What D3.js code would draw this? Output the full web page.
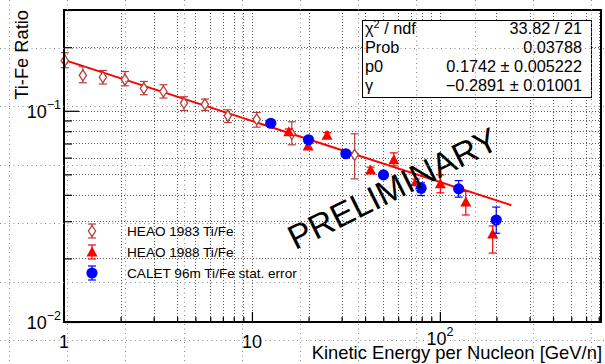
<!DOCTYPE html>
<html><head><meta charset="utf-8">
<script src="https://cdn.jsdelivr.net/npm/d3@7"></script>
<style>
html,body{margin:0;padding:0;background:#fff;}
svg{display:block;font-family:"Liberation Sans",Arial,Helvetica,sans-serif;}
</style></head><body>
<svg id="c" width="605" height="364"></svg>
<script>
// ---- data ----
const heao83E  = [1.01,1.26,1.61,2.11,2.66,3.38,4.35,5.62,7.44,10.6,16.3,35.2];
const heao83V  = [0.1726,0.1472,0.1441,0.1403,0.1278,0.1234,0.1088,0.1073,0.0947,0.0911,0.0778,0.0619];
const heao83Lo = [0.1599,0.1357,0.1338,0.1313,0.1191,0.1149,0.1003,0.1003,0.0880,0.0837,0.0690,0.0476];
const heao83Hi = [0.1883,0.1617,0.1552,0.1535,0.1377,0.1328,0.1165,0.1136,0.1011,0.0982,0.0887,0.0778];

const heao88E  = [15.7,19.9,25.1,42.8,56.9,74.5,100.6,137.4,191];
const heao88V  = [0.0795,0.0682,0.0765,0.0525,0.0586,0.0461,0.0451,0.0370,0.0261];
const heao88Lo = [0.0770,0.0662,0.0742,0.0509,0.0549,0.0447,0.0409,0.0321,0.0212];
const heao88Hi = [0.0820,0.0702,0.0788,0.0541,0.0632,0.0475,0.0497,0.0415,0.0285];

const caletE  = [12.6,20.0,31.6,50.1,79.4,125.9,199.5];
const caletV  = [0.0873,0.0729,0.0626,0.0497,0.0430,0.0427,0.0304];
const caletLo = [0.0850,0.0712,0.0608,0.0482,0.0397,0.0390,0.0263];
const caletHi = [0.0896,0.0746,0.0644,0.0512,0.0456,0.0467,0.0350];

const fitP0 = 0.1742, fitGamma = -0.2891, fitRange = [1, 240];

const statLabels = ["χ² / ndf","Prob","p0","γ"];
const statValues = ["33.82 / 21","0.03788","0.1742 ± 0.005222","−0.2891 ± 0.01001"];

const legendLabels = ["HEAO 1983 Ti/Fe","HEAO 1988 Ti/Fe","CALET 96m Ti/Fe stat. error"];

const xTickValues = [1,2,3,4,5,6,7,8,9,10,20,30,40,50,60,70,80,90,100,200,300,400,500,600,700];
const yTickValues = [0.01,0.02,0.03,0.04,0.05,0.06,0.07,0.08,0.09,0.1,0.2,0.3];
const xMajor = [1,10,100], xMajorBase = ["1","10","10"], xMajorExp = ["","","2"];
const yMajor = [0.01,0.1], yMajorBase = ["10","10"], yMajorExp = ["−2","−1"];

// ---- layout ----
const L=64,R=601,T=10,B=322;
const svg=d3.select("#c");
svg.append("rect").attr("width",605).attr("height",364).attr("fill","#fff");
const x=d3.scaleLog().domain([1,720]).range([L,R]);
const y=d3.scaleLog().domain([0.01,0.3]).range([B,T]);

const C83="#b83c3c", C88="#ff0000", CCAL="#0000ff";

// ROOT grid
const grid=svg.append("g").attr("stroke","#5a5a5a").attr("stroke-width",1).attr("stroke-dasharray","1,2");
grid.selectAll(".gx").data(xTickValues.filter(v=>v>1)).join("line")
  .attr("x1",d=>Math.round(x(d))+0.5).attr("x2",d=>Math.round(x(d))+0.5).attr("y1",T).attr("y2",B);
grid.selectAll(".gy").data(yTickValues.filter(v=>v>0.01 && v<0.3)).join("line")
  .attr("y1",d=>Math.round(y(d))+0.5).attr("y2",d=>Math.round(y(d))+0.5).attr("x1",L).attr("x2",R);

// axes
const isMajX=d=>xMajor.includes(d), isMajY=d=>yMajor.includes(d);
const gx=svg.append("g").attr("transform",`translate(0,${B})`)
  .call(d3.axisBottom(x).tickValues(xTickValues).tickSize(-10).tickFormat(()=>""));
gx.select(".domain").remove();
gx.selectAll(".tick line").attr("y2",d=>isMajX(d)?-10:-5).attr("stroke","#000").attr("stroke-width",1.2);
gx.selectAll(".tick text").remove();
const gy=svg.append("g").attr("transform",`translate(${L},0)`)
  .call(d3.axisLeft(y).tickValues(yTickValues).tickSize(-15).tickFormat(()=>""));
gy.select(".domain").remove();
gy.selectAll(".tick line").attr("x2",d=>isMajY(d)?15:8).attr("stroke","#000").attr("stroke-width",1.2);
gy.selectAll(".tick text").remove();

// tick labels
xMajor.forEach((v,i)=>{
  const t=svg.append("text").attr("x",x(v)).attr("y",xMajorExp[i]?345:348).attr("text-anchor","middle")
    .attr("font-size",18).attr("fill","#000");
  t.append("tspan").text(xMajorBase[i]);
  if(xMajorExp[i]) t.append("tspan").attr("dy",-9).attr("font-size",12.5).text(xMajorExp[i]);
});
yMajor.forEach((v,i)=>{
  const t=svg.append("text").attr("x",61).attr("y",y(v)+7).attr("text-anchor","end")
    .attr("font-size",18).attr("fill","#000");
  t.append("tspan").text(yMajorBase[i]);
  t.append("tspan").attr("dy",-9).attr("font-size",12.5).text(yMajorExp[i]);
});

// axis titles
svg.append("text").attr("transform","translate(28,10) rotate(-90)").attr("text-anchor","end")
  .attr("font-size",18.3).text("Ti-Fe Ratio");
svg.append("text").attr("x",602).attr("y",359).attr("text-anchor","end")
  .attr("font-size",18.4).text("Kinetic Energy per Nucleon [GeV/n]");

// fit line
svg.append("path").datum(fitRange).attr("fill","none").attr("stroke","#ff0000").attr("stroke-width",2)
  .attr("d",d3.line().x(e=>x(e)).y(e=>y(fitP0*Math.pow(e,fitGamma))));

// series drawing helper
function errBars(g,E,Lo,Hi,color,cap){
  E.forEach((e,i)=>{
    const px=x(e);
    g.append("line").attr("x1",px).attr("x2",px).attr("y1",y(Lo[i])).attr("y2",y(Hi[i]))
      .attr("stroke",color).attr("stroke-width",1.2);
    [Lo[i],Hi[i]].forEach(v=>g.append("line").attr("x1",px-cap).attr("x2",px+cap)
      .attr("y1",y(v)).attr("y2",y(v)).attr("stroke",color).attr("stroke-width",1.2));
  });
}
const diamond="M0,-5.5L3.6,0L0,5.5L-3.6,0Z";
const tri="M0,-5.5L5.5,4.5L-5.5,4.5Z";

const g83=svg.append("g");
errBars(g83,heao83E,heao83Lo,heao83Hi,C83,4);
g83.selectAll("path").data(heao83E).join("path")
  .attr("transform",(e,i)=>`translate(${x(e)},${y(heao83V[i])})`)
  .attr("d",diamond).attr("fill","#fff").attr("stroke",C83).attr("stroke-width",1.3);

const g88=svg.append("g");
errBars(g88,heao88E,heao88Lo,heao88Hi,C88,4);
g88.selectAll("path").data(heao88E).join("path")
  .attr("transform",(e,i)=>`translate(${x(e)},${y(heao88V[i])})`)
  .attr("d",tri).attr("fill",C88);

const gc=svg.append("g");
errBars(gc,caletE,caletLo,caletHi,CCAL,4);
gc.selectAll("circle").data(caletE).join("circle")
  .attr("cx",e=>x(e)).attr("cy",(e,i)=>y(caletV[i])).attr("r",5.6).attr("fill",CCAL);

// frame
svg.append("rect").attr("x",L).attr("y",T).attr("width",R-L).attr("height",B-T)
  .attr("fill","none").attr("stroke","#000").attr("stroke-width",2);

// stats box
const sb=svg.append("g");
sb.append("rect").attr("x",362.5).attr("y",20.5).attr("width",229).attr("height",77)
  .attr("fill","#fff").attr("stroke","#000").attr("stroke-width",1);
statLabels.forEach((s,i)=>{
  const yy=34+i*19;
  const t=sb.append("text").attr("x",365).attr("y",yy).attr("font-size",16.3);
  if(i===0){ t.append("tspan").text("χ"); t.append("tspan").attr("dy",-6).attr("font-size",11).text("2");
             t.append("tspan").attr("dy",6).text(" / ndf"); }
  else t.text(s);
  sb.append("text").attr("x",582).attr("y",yy).attr("text-anchor","end").attr("font-size",16.3).text(statValues[i]);
});

// legend
const lg=svg.append("g");
const rows=[231,252,273];
const lx=92;
// HEAO 1983
lg.append("line").attr("x1",lx).attr("x2",lx).attr("y1",rows[0]-7).attr("y2",rows[0]+7).attr("stroke",C83).attr("stroke-width",1.2);
[rows[0]-7,rows[0]+7].forEach(v=>lg.append("line").attr("x1",lx-4).attr("x2",lx+4).attr("y1",v).attr("y2",v).attr("stroke",C83).attr("stroke-width",1.2));
lg.append("path").attr("transform",`translate(${lx},${rows[0]})`).attr("d",diamond).attr("fill","#fff").attr("stroke",C83).attr("stroke-width",1.3);
// HEAO 1988
lg.append("line").attr("x1",lx).attr("x2",lx).attr("y1",rows[1]-7).attr("y2",rows[1]+7).attr("stroke",C88).attr("stroke-width",1.2);
[rows[1]-7,rows[1]+7].forEach(v=>lg.append("line").attr("x1",lx-4).attr("x2",lx+4).attr("y1",v).attr("y2",v).attr("stroke",C88).attr("stroke-width",1.2));
lg.append("path").attr("transform",`translate(${lx},${rows[1]})`).attr("d",tri).attr("fill",C88);
// CALET
lg.append("line").attr("x1",lx).attr("x2",lx).attr("y1",rows[2]-7).attr("y2",rows[2]+7).attr("stroke",CCAL).attr("stroke-width",1.2);
[rows[2]-7,rows[2]+7].forEach(v=>lg.append("line").attr("x1",lx-4).attr("x2",lx+4).attr("y1",v).attr("y2",v).attr("stroke",CCAL).attr("stroke-width",1.2));
lg.append("circle").attr("cx",lx).attr("cy",rows[2]).attr("r",5.6).attr("fill",CCAL);
legendLabels.forEach((s,i)=>lg.append("text").attr("x",127).attr("y",rows[i]+5).attr("font-size",13.6).text(s));

// PRELIMINARY watermark
svg.append("text").attr("transform","translate(398,199) rotate(-26.5)").attr("text-anchor","middle")
  .attr("font-size",34).attr("fill","#000").text("PRELIMINARY");

// overlay dotted guide grid (as in the screenshot)
const ov=svg.append("g").attr("stroke","#8c8c8c").attr("stroke-width",1).attr("stroke-dasharray","1,3.5");
ov.selectAll(".ovx").data(d3.range(0,11)).join("line")
  .attr("x1",k=>9.5+Math.round(k*58.2)).attr("x2",k=>9.5+Math.round(k*58.2)).attr("y1",0).attr("y2",364);
ov.selectAll(".ovy").data(d3.range(0,6)).join("line")
  .attr("y1",k=>48.5+Math.round(k*58.4)).attr("y2",k=>48.5+Math.round(k*58.4)).attr("x1",0).attr("x2",605);
</script></body></html>
